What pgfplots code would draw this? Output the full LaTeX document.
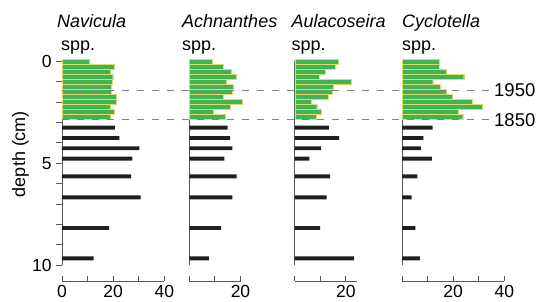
\documentclass[border=0pt]{standalone}
\usepackage{fontspec}
\setmainfont{Liberation Sans}
\usepackage{pgfplots}
\pgfplotsset{compat=1.18}
\usepackage{pgfplotstable}

\definecolor{bargreen}{RGB}{62,180,82}
\definecolor{baredge}{RGB}{222,218,110}
\definecolor{axgray}{RGB}{90,90,90}
\definecolor{dashgray}{RGB}{130,130,130}

% depth (cm) and relative abundance (%) -- post-1850 samples (green)
\pgfplotstableread{
d     nav   ach   aul   cyc
0.02  10.5  8.8   17.0  14.5
0.265 20.4  13.1  16.0  14.6
0.51  18.9  16.4  11.9  17.1
0.755 19.8  18.4  9.7   24.1
1.00  19.6  14.5  22.0  12.0
1.245 19.4  17.2  15.0  14.8
1.49  19.2  16.8  14.5  17.4
1.735 21.2  13.4  13.0  19.7
1.98  21.3  20.7  6.3   27.6
2.225 19.0  15.8  8.6   31.5
2.47  20.5  9.5   10.4  21.8
2.715 18.9  14.2  8.4   23.7
}\greentab
% pre-1850 samples (black)
\pgfplotstableread{
d     nav   ach   aul   cyc
3.25  20.7  15.0  13.4  12.0
3.76  22.4  15.9  17.4  8.3
4.26  30.2  16.8  10.3  7.4
4.77  27.5  13.7  5.7   11.7
5.64  27.0  18.5  13.8  6.0
6.67  30.7  16.8  12.5  3.8
8.17  18.4  12.4  9.9   5.2
9.66  12.4  7.6   23.2  7.0
}\blacktab

\pgfplotsset{
  panel/.style={
    scale only axis, clip=false,
    ymin=-10, ymax=0, height=204pt,
    xmin=0,
    axis x line*=bottom, axis y line*=left,
    axis x line shift=15.7pt,
    axis line style={axgray, line width=0.9pt},
    every tick/.style={axgray, line width=0.9pt},
    tick align=inside,
    major tick length=5.5pt,
    ytick=\empty,
    ytick style={xshift=-5.5pt},
    ticklabel style={font=\fontsize{17.5}{18}\selectfont, inner sep=0pt},
    xticklabel style={anchor=north, yshift=-4pt},
    yticklabel style={anchor=east, xshift=-10.3pt},
    /pgf/number format/assume math mode=true,
    anchor=north west,
  },
  gbar/.style={xbar, bar width=4.2pt, bar shift=0pt, fill=bargreen, draw=baredge, line width=0.35pt},
  kbar/.style={xbar, bar width=3.8pt, bar shift=0pt, fill=black!88, draw=none},
}

\begin{document}
\begin{tikzpicture}
\useasboundingbox (0,0) rectangle (546pt,-301pt);

% Navicula
\begin{axis}[panel, at={(62pt,-61.3pt)}, xmax=40, width=102.4pt,
  xtick={0,10,20,30,40}, xticklabels={0,,20,,40},
  ytick={0,-1,-2,-3,-4,-5,-6,-7,-8,-9,-10},
  yticklabels={0,,,,,5,,,,,10}]
\addplot[gbar] table[x=nav, y expr=-\thisrow{d}] {\greentab};
\addplot[kbar] table[x=nav, y expr=-\thisrow{d}] {\blacktab};
\end{axis}

% Achnanthes
\begin{axis}[panel, at={(189.3pt,-61.3pt)}, xmax=20, width=51.2pt,
  xtick={0,10,20}, xticklabels={,,20}]
\addplot[gbar] table[x=ach, y expr=-\thisrow{d}] {\greentab};
\addplot[kbar] table[x=ach, y expr=-\thisrow{d}] {\blacktab};
\end{axis}

% Aulacoseira
\begin{axis}[panel, at={(294.7pt,-61.3pt)}, xmax=24.5, width=62.7pt,
  xtick={0,10,20}, xticklabels={,,20}]
\addplot[gbar] table[x=aul, y expr=-\thisrow{d}] {\greentab};
\addplot[kbar] table[x=aul, y expr=-\thisrow{d}] {\blacktab};
\end{axis}

% Cyclotella
\begin{axis}[panel, at={(402pt,-61.3pt)}, xmax=40, width=102.4pt,
  xtick={0,10,20,30,40}, xticklabels={,,20,,40}]
\addplot[gbar] table[x=cyc, y expr=-\thisrow{d}] {\greentab};
\addplot[kbar] table[x=cyc, y expr=-\thisrow{d}] {\blacktab};
\end{axis}

% date horizons
\draw[dashgray, line width=0.8pt, dash pattern=on 6.5pt off 8.5pt] (62pt,-90.7pt) -- (493pt,-90.7pt);
\draw[dashgray, line width=0.8pt, dash pattern=on 6.5pt off 8.5pt] (62pt,-119.8pt) -- (493pt,-119.8pt);
\node[anchor=base west, inner sep=0pt, font=\fontsize{18.5}{20}\selectfont] at (494pt,-96.9pt) {1950};
\node[anchor=base west, inner sep=0pt, font=\fontsize{18.5}{20}\selectfont] at (494pt,-126pt) {1850};

% titles
\begin{scope}[every node/.style={anchor=base west, inner sep=0pt, font=\fontsize{18}{20}\selectfont}]
\node at (57pt,-27.3pt) {\itshape Navicula};
\node at (61pt,-50pt) {spp.};
\node at (182pt,-27.3pt) {\itshape Achnanthes};
\node at (182pt,-50pt) {spp.};
\node at (291.5pt,-27.3pt) {\itshape Aulacoseira};
\node at (291.5pt,-50pt) {spp.};
\node at (402pt,-27.3pt) {\itshape Cyclotella};
\node at (402pt,-50pt) {spp.};
\end{scope}

% y label
\node[rotate=90, inner sep=0pt, font=\fontsize{18}{20}\selectfont] at (20.5pt,-154pt) {depth (cm)};
\end{tikzpicture}
\end{document}
